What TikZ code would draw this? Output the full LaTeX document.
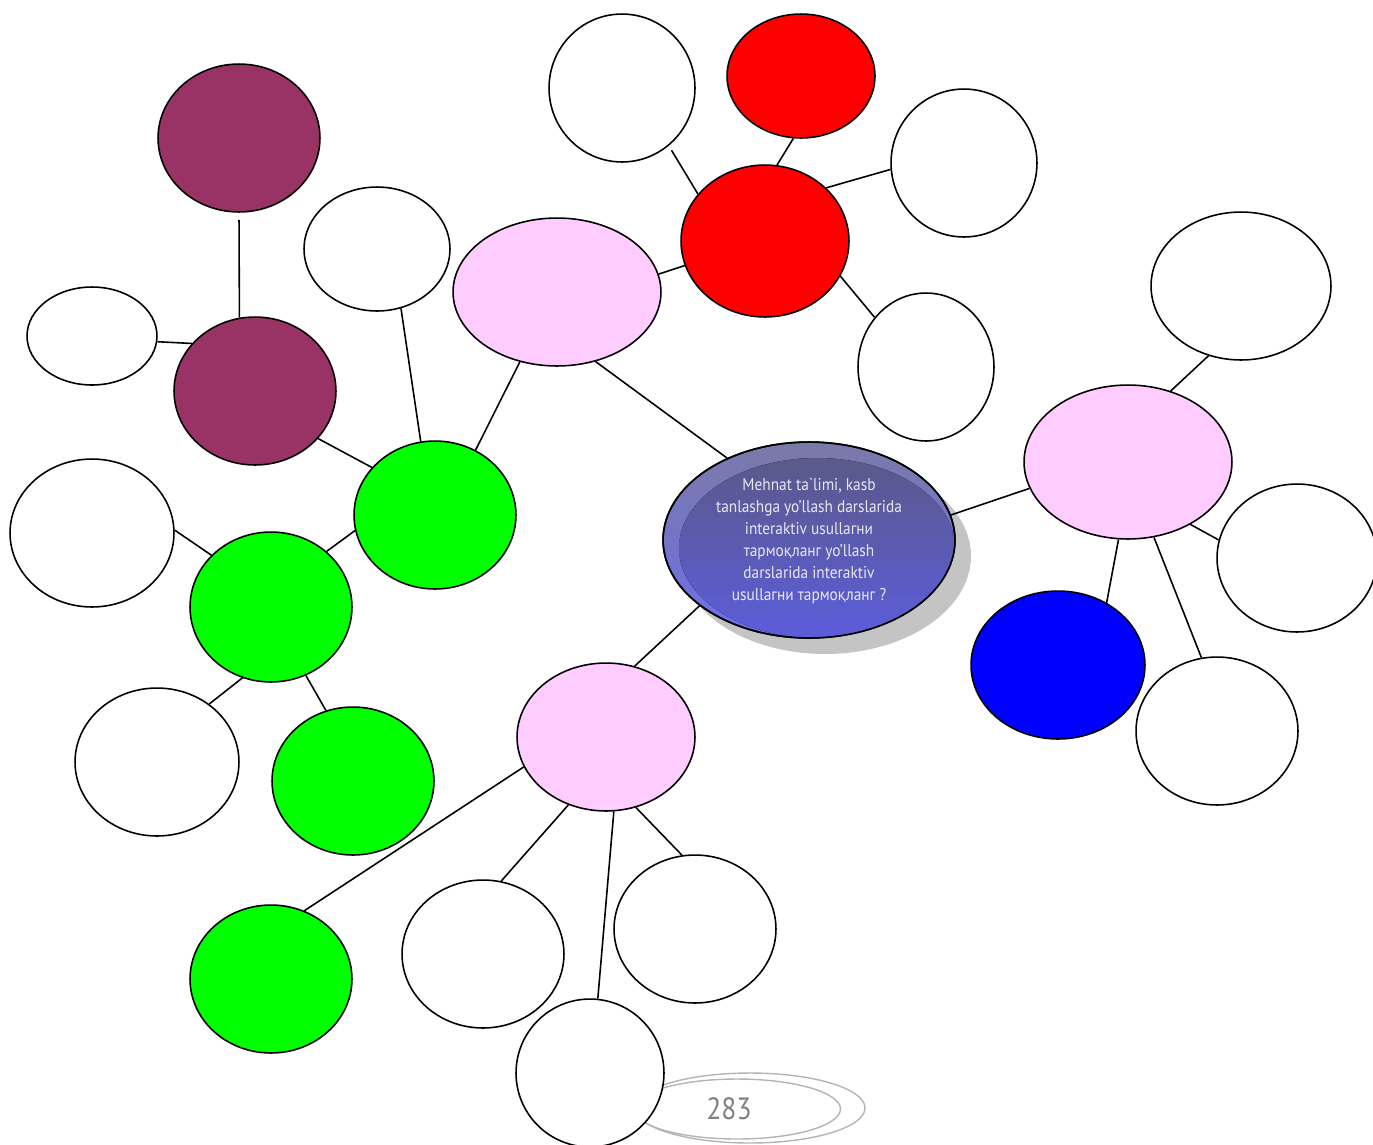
\documentclass[tikz,border=0pt]{standalone}
\usepackage{fontspec}
\newfontfamily\ptsans{PT Sans}
\newfontfamily\ptsansn[FakeStretch=0.9]{PT Sans}
\usetikzlibrary{shapes.geometric}
\definecolor{plum}{HTML}{993366}
\definecolor{pinkf}{HTML}{FFCCFF}
\definecolor{grn}{HTML}{00FF00}
\definecolor{rd}{HTML}{FF0000}
\definecolor{bl}{HTML}{0000FF}
\definecolor{shad}{HTML}{C4C4C4}
\definecolor{pagegray}{HTML}{B4B4B4}
\definecolor{numgray}{HTML}{808080}
\definecolor{ctxt}{HTML}{E8E8F2}
\tikzset{
  ov/.style 2 args={ellipse, draw, line width=0.9pt, inner sep=0pt,
    minimum width=#1*0.04cm, minimum height=#2*0.04cm},
  link/.style={line width=0.9pt},
}
\begin{document}
\begin{tikzpicture}[x=0.02cm,y=-0.02cm]
\useasboundingbox (0,0) rectangle (1373,1144);
% page number decoration
\draw[pagegray, line width=0.8pt] (750,1108) ellipse [x radius=2.3cm, y radius=0.7cm];
\draw[pagegray, line width=0.8pt] (737,1109) ellipse [x radius=2.07cm, y radius=0.6cm];
\node[text=numgray, font=\ptsansn\fontsize{17.5}{19}\selectfont] (pn) at (729,1109) {283};
% central node
\fill[shad] (825,556) ellipse [x radius=2.92cm, y radius=1.96cm];
\node[ov={146}{98}, top color={rgb,255:red,122;green,122;blue,168}, bottom color={rgb,255:red,110;green,110;blue,235}] (c) at (809,540) {};
\begin{scope}
\clip (809,540) ellipse [x radius=2.92cm, y radius=1.96cm];
\fill[top color={rgb,255:red,90;green,90;blue,138}, bottom color={rgb,255:red,92;green,92;blue,220}] (817,548) ellipse [x radius=2.76cm, y radius=1.8cm];
\end{scope}
\draw[line width=0.9pt] (809,540) ellipse [x radius=2.92cm, y radius=1.96cm];
\node[text=ctxt, align=center, font=\ptsansn\fontsize{9.7}{12.6}\selectfont] (ct) at (809,541)
  {Mehnat ta`limi, kasb\\tanlashga yo’llash darslarida\\interaktiv usullaгни\\тармоқланг yo’llash\\darslarida interaktiv\\usullaгни тармоқланг ?};
% coloured nodes
\node[ov={81}{74}, fill=plum] (p1) at (239,138) {};
\node[ov={81}{74}, fill=plum] (p2) at (255,391) {};
\node[ov={104}{74}, fill=pinkf] (pt) at (557,292) {};
\node[ov={84}{76}, fill=rd] (r) at (765,241) {};
\node[ov={74}{62}, fill=rd] (rt) at (801,76) {};
\node[ov={104}{77}, fill=pinkf] (pr) at (1128,462) {};
\node[ov={87}{74}, fill=bl] (b) at (1058,665) {};
\node[ov={81}{74}, fill=grn] (g1) at (435,515) {};
\node[ov={81}{75}, fill=grn] (g2) at (271,607) {};
\node[ov={81}{74}, fill=grn] (g3) at (353,781) {};
\node[ov={89}{74}, fill=pinkf] (pb) at (606,737) {};
\node[ov={81}{74}, fill=grn] (g4) at (271,979) {};
% white nodes
\node[ov={65}{49}, fill=white] (w1) at (92,336) {};
\node[ov={73}{62}, fill=white] (w2) at (377,249) {};
\node[ov={73}{74}, fill=white] (w3) at (622,88) {};
\node[ov={73}{74}, fill=white] (w4) at (964,163) {};
\node[ov={68}{74}, fill=white] (w5) at (926,367) {};
\node[ov={90}{74}, fill=white] (w6) at (1241,286) {};
\node[ov={80}{74}, fill=white] (w7) at (1297,558) {};
\node[ov={81}{74}, fill=white] (w8) at (1217,731) {};
\node[ov={82}{74}, fill=white] (w9) at (92,533) {};
\node[ov={82}{74}, fill=white] (w10) at (157,762) {};
\node[ov={81}{74}, fill=white] (w11) at (483,954) {};
\node[ov={81}{74}, fill=white] (w12) at (695,929) {};
\node[ov={74}{74}, fill=white] (w13) at (590,1073) {};
% connectors
\draw[link, shorten <=4pt] (p1.-90) -- (p2.102);
\draw[link] (w1.-5) -- (p2.143);
\draw[link] (p2.-37.6) -- (g1.143.3);
\draw[link] (w2.-68.4) -- (g1.101.9);
\draw[link] (pt.-118.9) -- (g1.58.2);
\draw[link] (pt.-61.7) -- (c.135);
\draw[link] (pt.10.9) -- (r.-163.7);
\draw[link, shorten <=3pt] (w3.-51.1) -- (r.145.6);
\draw[link] (rt.-97.2) -- (r.81.4);
\draw[link] (r.41) -- (w4.185.5);
\draw[link] (r.-25.9) -- (w5.136.1);
\draw[link] (c.10) -- (pr.195.5);
\draw[link] (pr.59.5) -- (w6.-115.3);
\draw[link] (pr.-45.9) -- (w7.167.5);
\draw[link] (pr.-97.8) -- (b.52.7);
\draw[link] (pr.-71.8) -- (w8.102.9);
\draw[link] (g1.191.2) -- (g2.45);
\draw[link] (w9.2) -- (g2.139.5);
\draw[link] (g2.-112.8) -- (w10.48.2);
\draw[link] (g2.-63.1) -- (g3.111);
\draw[link] (c.-149) -- (pb.68.9);
\draw[link] (pb.200) -- (g4.64.1);
\draw[link] (pb.-119.5) -- (w11.76.3);
\draw[link] (pb.-84.2) -- (w13.84.4);
\draw[link] (pb.-67.4) -- (w12.100.2);
\end{tikzpicture}
\end{document}
